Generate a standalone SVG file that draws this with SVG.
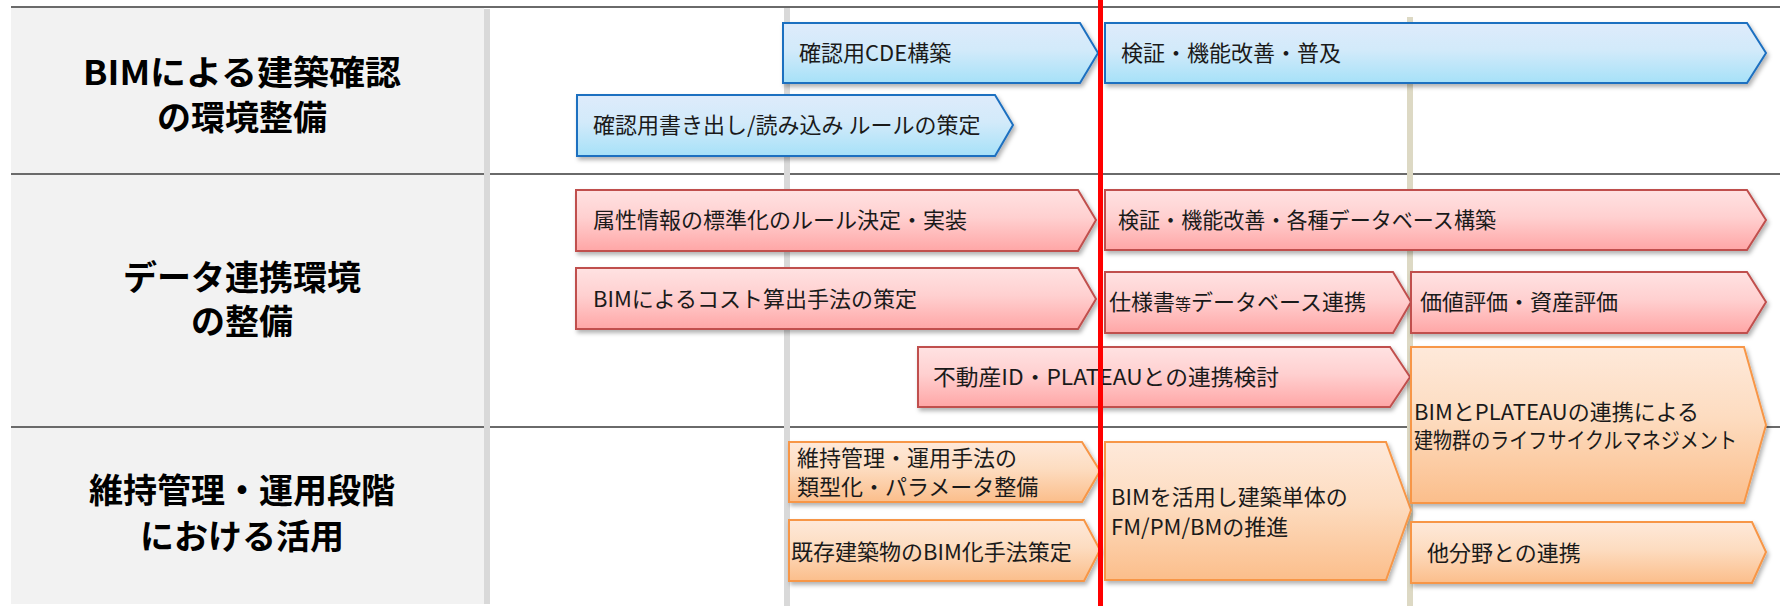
<svg xmlns="http://www.w3.org/2000/svg" width="1780" height="606" viewBox="0 0 1780 606">
<defs>
<linearGradient id="gBlue" x1="0" y1="0" x2="0" y2="1"><stop offset="0" stop-color="#DEEBFB"/><stop offset="0.45" stop-color="#D2EAFA"/><stop offset="1" stop-color="#A6E1F8"/></linearGradient>
<linearGradient id="gPink" x1="0" y1="0" x2="0" y2="1"><stop offset="0" stop-color="#FFE2E2"/><stop offset="0.45" stop-color="#FFD0D0"/><stop offset="1" stop-color="#FFA6A6"/></linearGradient>
<linearGradient id="gOrange" x1="0" y1="0" x2="0" y2="1"><stop offset="0" stop-color="#FEE9DA"/><stop offset="0.45" stop-color="#FDDCC0"/><stop offset="1" stop-color="#FBBE8B"/></linearGradient>
<filter id="sh" x="-5%" y="-20%" width="115%" height="150%"><feDropShadow dx="2" dy="3" stdDeviation="2" flood-color="#000" flood-opacity="0.3"/></filter>
</defs>
<style>
.hdr{font-family:"Noto Sans CJK JP","Noto Sans",sans-serif;font-weight:700;font-size:34px;fill:#000;text-anchor:middle}
.t{font-family:"Noto Sans CJK JP","Noto Sans",sans-serif;font-size:22px;fill:#1a1a1a}
.blue{fill:url(#gBlue);stroke:#1E70C0;stroke-width:2;filter:url(#sh)}
.pink{fill:url(#gPink);stroke:#C0504D;stroke-width:2;filter:url(#sh)}
.orange{fill:url(#gOrange);stroke:#F79646;stroke-width:2;filter:url(#sh)}
.hl{stroke:#6A6A6A;stroke-width:2;fill:none}
</style>
<rect width="1780" height="606" fill="#FFFFFF"/>
<g id="grid">
<rect x="11" y="8" width="473" height="596" fill="#F2F2F2"/>
<line class="hl" x1="11" y1="7" x2="1780" y2="7"/>
<line class="hl" x1="11" y1="174" x2="1780" y2="174"/>
<line class="hl" x1="11" y1="427" x2="1780" y2="427"/>
<rect x="484" y="9" width="6" height="595" fill="#D9D9D9"/>
<rect x="784" y="8" width="6" height="598" fill="#D9D9D9"/>
<rect x="1407" y="17" width="6" height="589" fill="#DDD9C4"/>
</g>
<g id="row-headers">
<g id="hdr1"><text class="hdr" x="242" y="85" textLength="318" lengthAdjust="spacingAndGlyphs">BIMによる建築確認</text><text class="hdr" x="242" y="130">の環境整備</text></g>
<g id="hdr2"><text class="hdr" x="242" y="290">データ連携環境</text><text class="hdr" x="242" y="334">の整備</text></g>
<g id="hdr3"><text class="hdr" x="242" y="503">維持管理・運用段階</text><text class="hdr" x="242" y="549">における活用</text></g>
</g>
<g id="connectors"></g>
<g id="n-cde"><polygon class="blue" points="783,23 1080,23 1098,53 1080,83 783,83"/><text class="t" x="799" y="61">確認用CDE構築</text></g>
<g id="n-rule"><polygon class="blue" points="577,95 995,95 1013,125 995,156 577,156"/><text class="t" x="593" y="133">確認用書き出し/読み込み ルールの策定</text></g>
<g id="n-verify1"><polygon class="blue" points="1105,23 1747,23 1766,53 1747,83 1105,83"/><text class="t" x="1121" y="61">検証・機能改善・普及</text></g>
<g id="n-attr"><polygon class="pink" points="576,190 1078,190 1096,220 1078,251 576,251"/><text class="t" x="593" y="228">属性情報の標準化のルール決定・実装</text></g>
<g id="n-cost"><polygon class="pink" points="576,268 1078,268 1096,299 1078,329 576,329"/><text class="t" x="593" y="307">BIMによるコスト算出手法の策定</text></g>
<g id="n-plateau"><polygon class="pink" points="918,347 1390,347 1410,377 1390,407 918,407"/><text class="t" x="933" y="385" textLength="346" lengthAdjust="spacingAndGlyphs">不動産ID・PLATEAUとの連携検討</text></g>
<g id="n-verify2"><polygon class="pink" points="1105,190 1747,190 1766,220 1747,250 1105,250"/><text class="t" x="1118" y="228" textLength="378" lengthAdjust="spacingAndGlyphs">検証・機能改善・各種データベース構築</text></g>
<g id="n-spec"><polygon class="pink" points="1105,272 1393,272 1411,302 1393,333 1105,333"/><text class="t" x="1109" y="310">仕様書<tspan font-size="16">等</tspan>データベース連携</text></g>
<g id="n-value"><polygon class="pink" points="1411,272 1747,272 1766,302 1747,333 1411,333"/><text class="t" x="1420" y="310">価値評価・資産評価</text></g>
<g id="n-maint"><polygon class="orange" points="789,442 1082,442 1100,471 1082,502 789,502"/><text class="t" x="797" y="466">維持管理・運用手法の</text><text class="t" x="797" y="495">類型化・パラメータ整備</text></g>
<g id="n-exist"><polygon class="orange" points="789,520 1084,520 1100,550 1084,581 789,581"/><text class="t" x="791" y="560">既存建築物のBIM化手法策定</text></g>
<g id="n-fm"><polygon class="orange" points="1105,442 1386,442 1411,510 1386,580 1105,580"/><text class="t" x="1111" y="505">BIMを活用し建築単体の</text><text class="t" x="1111" y="535">FM/PM/BMの推進</text></g>
<g id="n-lcm"><polygon class="orange" points="1411,347 1744,347 1766,425 1744,503 1411,503"/><text class="t" x="1414" y="420">BIMとPLATEAUの連携による</text><text class="t" x="1414" y="448" textLength="323" lengthAdjust="spacingAndGlyphs">建物群のライフサイクルマネジメント</text></g>
<g id="n-other"><polygon class="orange" points="1411,522 1752,522 1766,552 1752,583 1411,583"/><text class="t" x="1427" y="561">他分野との連携</text></g>
<g id="marker-now"><rect x="1098" y="0" width="5" height="606" fill="#FF0000"/></g>
</svg>
